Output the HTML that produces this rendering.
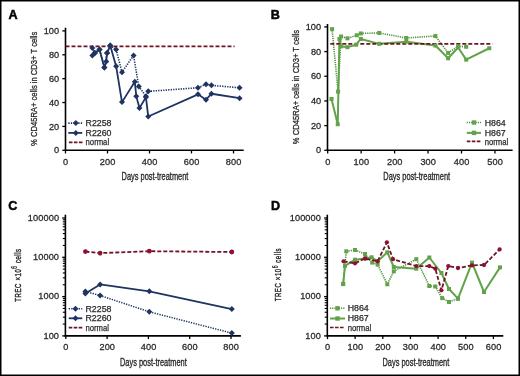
<!DOCTYPE html><html><head><meta charset="utf-8"><style>html,body{margin:0;padding:0;background:#fff;}svg{display:block;will-change:transform;}text{font-family:"Liberation Sans", sans-serif;}</style></head><body>
<svg width="520" height="376" viewBox="0 0 520 376">
<rect x="0" y="0" width="520" height="376" fill="#fff"/>
<line x1="65.5" y1="27.7" x2="65.5" y2="151.05" stroke="#000" stroke-width="1.6"/>
<line x1="64.7" y1="150.25" x2="243.7" y2="150.25" stroke="#000" stroke-width="1.6"/>
<line x1="65.5" y1="150.25" x2="65.5" y2="153.45" stroke="#000" stroke-width="1.3"/>
<line x1="107.5" y1="150.25" x2="107.5" y2="153.45" stroke="#000" stroke-width="1.3"/>
<line x1="149.5" y1="150.25" x2="149.5" y2="153.45" stroke="#000" stroke-width="1.3"/>
<line x1="191.5" y1="150.25" x2="191.5" y2="153.45" stroke="#000" stroke-width="1.3"/>
<line x1="233.5" y1="150.25" x2="233.5" y2="153.45" stroke="#000" stroke-width="1.3"/>
<line x1="62.3" y1="150.3" x2="65.5" y2="150.3" stroke="#000" stroke-width="1.3"/>
<line x1="62.3" y1="126.42" x2="65.5" y2="126.42" stroke="#000" stroke-width="1.3"/>
<line x1="62.3" y1="102.54" x2="65.5" y2="102.54" stroke="#000" stroke-width="1.3"/>
<line x1="62.3" y1="78.66" x2="65.5" y2="78.66" stroke="#000" stroke-width="1.3"/>
<line x1="62.3" y1="54.78" x2="65.5" y2="54.78" stroke="#000" stroke-width="1.3"/>
<line x1="62.3" y1="30.9" x2="65.5" y2="30.9" stroke="#000" stroke-width="1.3"/>
<text x="65.65" y="165.2" font-size="9.2" text-anchor="middle" font-weight="normal" fill="#2a2a2a" letter-spacing="0.1" stroke="#2a2a2a" stroke-width="0.28">0</text>
<text x="107.65" y="165.2" font-size="9.2" text-anchor="middle" font-weight="normal" fill="#2a2a2a" letter-spacing="0.1" stroke="#2a2a2a" stroke-width="0.28">200</text>
<text x="149.65" y="165.2" font-size="9.2" text-anchor="middle" font-weight="normal" fill="#2a2a2a" letter-spacing="0.1" stroke="#2a2a2a" stroke-width="0.28">400</text>
<text x="191.65" y="165.2" font-size="9.2" text-anchor="middle" font-weight="normal" fill="#2a2a2a" letter-spacing="0.1" stroke="#2a2a2a" stroke-width="0.28">600</text>
<text x="233.65" y="165.2" font-size="9.2" text-anchor="middle" font-weight="normal" fill="#2a2a2a" letter-spacing="0.1" stroke="#2a2a2a" stroke-width="0.28">800</text>
<text x="59.3" y="153.4" font-size="9.2" text-anchor="end" font-weight="normal" fill="#2a2a2a" letter-spacing="0.1" stroke="#2a2a2a" stroke-width="0.28">0</text>
<text x="59.3" y="129.52" font-size="9.2" text-anchor="end" font-weight="normal" fill="#2a2a2a" letter-spacing="0.1" stroke="#2a2a2a" stroke-width="0.28">20</text>
<text x="59.3" y="105.64" font-size="9.2" text-anchor="end" font-weight="normal" fill="#2a2a2a" letter-spacing="0.1" stroke="#2a2a2a" stroke-width="0.28">40</text>
<text x="59.3" y="81.76" font-size="9.2" text-anchor="end" font-weight="normal" fill="#2a2a2a" letter-spacing="0.1" stroke="#2a2a2a" stroke-width="0.28">60</text>
<text x="59.3" y="57.88" font-size="9.2" text-anchor="end" font-weight="normal" fill="#2a2a2a" letter-spacing="0.1" stroke="#2a2a2a" stroke-width="0.28">80</text>
<text x="59.3" y="34" font-size="9.2" text-anchor="end" font-weight="normal" fill="#2a2a2a" letter-spacing="0.1" stroke="#2a2a2a" stroke-width="0.28">100</text>
<text transform="translate(155,179.7) scale(0.675,1)" font-size="11" text-anchor="middle" fill="#2a2a2a" stroke="#2a2a2a" stroke-width="0.35">Days post-treatment</text>
<text transform="translate(36.7,88.8) rotate(-90) scale(0.81,1)" x="0" y="0" font-size="9.4" text-anchor="middle" fill="#2a2a2a" stroke="#2a2a2a" stroke-width="0.3">% CD45RA+ cells in CD3+ T cells</text>
<text x="8.4" y="18.5" font-size="12.6" text-anchor="start" font-weight="bold" fill="#000" stroke="#000" stroke-width="0.5">A</text>
<polyline points="92.38,47.9 94.9,53.04 99.52,49.45 104.35,67.41 107.08,53.04 110.23,45.62 116.11,49.45 121.99,72.19 133.54,55.44 138.79,86.56 145.93,96.13 148.24,91.35 198.01,87.76 205.99,84.16 211.45,85.36 239.59,87.76" fill="none" stroke="#1f3463" stroke-width="1.6" stroke-dasharray="1.3,1.2" stroke-linejoin="round"/>
<polyline points="92.38,55.44 94.9,53.04 99.52,49.45 104.35,67.41 106.24,61.42 107.08,53.04 110.23,45.62 116.11,66.21 121.99,102.12 134.8,81.77 136.27,96.13 139.42,108.1 145.93,97.33 148.24,116.48 198.01,94.34 205.99,99.73 211.45,93.74 239.59,98.17" fill="none" stroke="#1f3463" stroke-width="1.8" stroke-linejoin="round"/>
<polyline points="65.5,46.4 234.6,46.4" fill="none" stroke="#6e1426" stroke-width="1.8" stroke-dasharray="4,2" stroke-linejoin="round"/>
<path d="M92.38 44.9L95.38 47.9L92.38 50.9L89.38 47.9Z" fill="#1f3463"/>
<path d="M94.9 50.04L97.9 53.04L94.9 56.04L91.9 53.04Z" fill="#1f3463"/>
<path d="M99.52 46.45L102.52 49.45L99.52 52.45L96.52 49.45Z" fill="#1f3463"/>
<path d="M104.35 64.41L107.35 67.41L104.35 70.41L101.35 67.41Z" fill="#1f3463"/>
<path d="M107.08 50.04L110.08 53.04L107.08 56.04L104.08 53.04Z" fill="#1f3463"/>
<path d="M110.23 42.62L113.23 45.62L110.23 48.62L107.23 45.62Z" fill="#1f3463"/>
<path d="M116.11 46.45L119.11 49.45L116.11 52.45L113.11 49.45Z" fill="#1f3463"/>
<path d="M121.99 69.19L124.99 72.19L121.99 75.19L118.99 72.19Z" fill="#1f3463"/>
<path d="M133.54 52.44L136.54 55.44L133.54 58.44L130.54 55.44Z" fill="#1f3463"/>
<path d="M138.79 83.56L141.79 86.56L138.79 89.56L135.79 86.56Z" fill="#1f3463"/>
<path d="M145.93 93.13L148.93 96.13L145.93 99.13L142.93 96.13Z" fill="#1f3463"/>
<path d="M148.24 88.35L151.24 91.35L148.24 94.35L145.24 91.35Z" fill="#1f3463"/>
<path d="M198.01 84.76L201.01 87.76L198.01 90.76L195.01 87.76Z" fill="#1f3463"/>
<path d="M205.99 81.16L208.99 84.16L205.99 87.16L202.99 84.16Z" fill="#1f3463"/>
<path d="M211.45 82.36L214.45 85.36L211.45 88.36L208.45 85.36Z" fill="#1f3463"/>
<path d="M239.59 84.76L242.59 87.76L239.59 90.76L236.59 87.76Z" fill="#1f3463"/>
<path d="M92.38 52.44L95.38 55.44L92.38 58.44L89.38 55.44Z" fill="#1f3463"/>
<path d="M94.9 50.04L97.9 53.04L94.9 56.04L91.9 53.04Z" fill="#1f3463"/>
<path d="M99.52 46.45L102.52 49.45L99.52 52.45L96.52 49.45Z" fill="#1f3463"/>
<path d="M104.35 64.41L107.35 67.41L104.35 70.41L101.35 67.41Z" fill="#1f3463"/>
<path d="M106.24 58.42L109.24 61.42L106.24 64.42L103.24 61.42Z" fill="#1f3463"/>
<path d="M107.08 50.04L110.08 53.04L107.08 56.04L104.08 53.04Z" fill="#1f3463"/>
<path d="M110.23 42.62L113.23 45.62L110.23 48.62L107.23 45.62Z" fill="#1f3463"/>
<path d="M116.11 63.21L119.11 66.21L116.11 69.21L113.11 66.21Z" fill="#1f3463"/>
<path d="M121.99 99.12L124.99 102.12L121.99 105.12L118.99 102.12Z" fill="#1f3463"/>
<path d="M134.8 78.77L137.8 81.77L134.8 84.77L131.8 81.77Z" fill="#1f3463"/>
<path d="M136.27 93.13L139.27 96.13L136.27 99.13L133.27 96.13Z" fill="#1f3463"/>
<path d="M139.42 105.1L142.42 108.1L139.42 111.1L136.42 108.1Z" fill="#1f3463"/>
<path d="M145.93 94.33L148.93 97.33L145.93 100.33L142.93 97.33Z" fill="#1f3463"/>
<path d="M148.24 113.48L151.24 116.48L148.24 119.48L145.24 116.48Z" fill="#1f3463"/>
<path d="M198.01 91.34L201.01 94.34L198.01 97.34L195.01 94.34Z" fill="#1f3463"/>
<path d="M205.99 96.73L208.99 99.73L205.99 102.73L202.99 99.73Z" fill="#1f3463"/>
<path d="M211.45 90.74L214.45 93.74L211.45 96.74L208.45 93.74Z" fill="#1f3463"/>
<path d="M239.59 95.17L242.59 98.17L239.59 101.17L236.59 98.17Z" fill="#1f3463"/>
<polyline points="68.3,123.1 82.2,123.1" fill="none" stroke="#1f3463" stroke-width="1.6" stroke-dasharray="1.3,1.2" stroke-linejoin="round"/>
<path d="M75.8 120.1L78.8 123.1L75.8 126.1L72.8 123.1Z" fill="#1f3463"/>
<polyline points="68.3,132.9 82.2,132.9" fill="none" stroke="#1f3463" stroke-width="1.8" stroke-linejoin="round"/>
<path d="M75.8 129.9L78.8 132.9L75.8 135.9L72.8 132.9Z" fill="#1f3463"/>
<polyline points="68.9,142.3 82.5,142.3" fill="none" stroke="#6e1426" stroke-width="1.7" stroke-dasharray="3.6,1.4" stroke-linejoin="round"/>
<text x="85.6" y="126.2" font-size="8.8" text-anchor="start" font-weight="normal" fill="#2a2a2a" stroke="#2a2a2a" stroke-width="0.25">R2258</text>
<text x="85.6" y="136" font-size="8.8" text-anchor="start" font-weight="normal" fill="#2a2a2a" stroke="#2a2a2a" stroke-width="0.25">R2260</text>
<text x="85.6" y="144.6" font-size="8.8" text-anchor="start" font-weight="normal" fill="#2a2a2a" textLength="23.5" lengthAdjust="spacingAndGlyphs" stroke="#2a2a2a" stroke-width="0.25">normal</text>
<line x1="327.5" y1="24" x2="327.5" y2="151.1" stroke="#000" stroke-width="1.6"/>
<line x1="326.7" y1="150.3" x2="512.6" y2="150.3" stroke="#000" stroke-width="1.6"/>
<line x1="327.7" y1="150.3" x2="327.7" y2="153.5" stroke="#000" stroke-width="1.3"/>
<line x1="361.15" y1="150.3" x2="361.15" y2="153.5" stroke="#000" stroke-width="1.3"/>
<line x1="394.6" y1="150.3" x2="394.6" y2="153.5" stroke="#000" stroke-width="1.3"/>
<line x1="428.05" y1="150.3" x2="428.05" y2="153.5" stroke="#000" stroke-width="1.3"/>
<line x1="461.5" y1="150.3" x2="461.5" y2="153.5" stroke="#000" stroke-width="1.3"/>
<line x1="494.95" y1="150.3" x2="494.95" y2="153.5" stroke="#000" stroke-width="1.3"/>
<line x1="324.3" y1="150.3" x2="327.5" y2="150.3" stroke="#000" stroke-width="1.3"/>
<line x1="324.3" y1="125.62" x2="327.5" y2="125.62" stroke="#000" stroke-width="1.3"/>
<line x1="324.3" y1="100.94" x2="327.5" y2="100.94" stroke="#000" stroke-width="1.3"/>
<line x1="324.3" y1="76.26" x2="327.5" y2="76.26" stroke="#000" stroke-width="1.3"/>
<line x1="324.3" y1="51.58" x2="327.5" y2="51.58" stroke="#000" stroke-width="1.3"/>
<line x1="324.3" y1="26.9" x2="327.5" y2="26.9" stroke="#000" stroke-width="1.3"/>
<text x="327.85" y="165.2" font-size="9.2" text-anchor="middle" font-weight="normal" fill="#2a2a2a" letter-spacing="0.1" stroke="#2a2a2a" stroke-width="0.28">0</text>
<text x="361.3" y="165.2" font-size="9.2" text-anchor="middle" font-weight="normal" fill="#2a2a2a" letter-spacing="0.1" stroke="#2a2a2a" stroke-width="0.28">100</text>
<text x="394.75" y="165.2" font-size="9.2" text-anchor="middle" font-weight="normal" fill="#2a2a2a" letter-spacing="0.1" stroke="#2a2a2a" stroke-width="0.28">200</text>
<text x="428.2" y="165.2" font-size="9.2" text-anchor="middle" font-weight="normal" fill="#2a2a2a" letter-spacing="0.1" stroke="#2a2a2a" stroke-width="0.28">300</text>
<text x="461.65" y="165.2" font-size="9.2" text-anchor="middle" font-weight="normal" fill="#2a2a2a" letter-spacing="0.1" stroke="#2a2a2a" stroke-width="0.28">400</text>
<text x="495.1" y="165.2" font-size="9.2" text-anchor="middle" font-weight="normal" fill="#2a2a2a" letter-spacing="0.1" stroke="#2a2a2a" stroke-width="0.28">500</text>
<text x="321.3" y="153.4" font-size="9.2" text-anchor="end" font-weight="normal" fill="#2a2a2a" letter-spacing="0.1" stroke="#2a2a2a" stroke-width="0.28">0</text>
<text x="321.3" y="128.72" font-size="9.2" text-anchor="end" font-weight="normal" fill="#2a2a2a" letter-spacing="0.1" stroke="#2a2a2a" stroke-width="0.28">20</text>
<text x="321.3" y="104.04" font-size="9.2" text-anchor="end" font-weight="normal" fill="#2a2a2a" letter-spacing="0.1" stroke="#2a2a2a" stroke-width="0.28">40</text>
<text x="321.3" y="79.36" font-size="9.2" text-anchor="end" font-weight="normal" fill="#2a2a2a" letter-spacing="0.1" stroke="#2a2a2a" stroke-width="0.28">60</text>
<text x="321.3" y="54.68" font-size="9.2" text-anchor="end" font-weight="normal" fill="#2a2a2a" letter-spacing="0.1" stroke="#2a2a2a" stroke-width="0.28">80</text>
<text x="321.3" y="30" font-size="9.2" text-anchor="end" font-weight="normal" fill="#2a2a2a" letter-spacing="0.1" stroke="#2a2a2a" stroke-width="0.28">100</text>
<text transform="translate(416.7,179.7) scale(0.675,1)" font-size="11" text-anchor="middle" fill="#2a2a2a" stroke="#2a2a2a" stroke-width="0.35">Days post-treatment</text>
<text transform="translate(298.8,87) rotate(-90) scale(0.81,1)" x="0" y="0" font-size="9.4" text-anchor="middle" fill="#2a2a2a" stroke="#2a2a2a" stroke-width="0.3">% CD45RA+ cells in CD3+ T cells</text>
<text x="270.8" y="18.8" font-size="12.6" text-anchor="start" font-weight="bold" fill="#000" stroke="#000" stroke-width="0.5">B</text>
<polyline points="332.05,29.15 338.07,91.62 341.08,36.5 347.44,38.34 356.8,35.27 360.82,33.44 379.21,32.95 406.31,37.97 435.41,36.01 448.12,52.91 458.15,46.3 466.18,46.79" fill="none" stroke="#4f8f3c" stroke-width="1.6" stroke-dasharray="1.2,1" stroke-linejoin="round"/>
<polyline points="331.51,98.97 337.74,124.21 339.41,38.95 341.08,46.3 347.44,47.16 356.13,44.71 360.82,38.95 379.21,43.85 406.31,41.64 435.41,45.56 448.12,58.3 458.15,47.52 466.18,59.65 489.26,48.26" fill="none" stroke="#62a34a" stroke-width="2" stroke-linejoin="round"/>
<polyline points="330.3,43.9 492.5,43.9" fill="none" stroke="#6e1426" stroke-width="1.8" stroke-dasharray="4,2" stroke-linejoin="round"/>
<rect x="330.05" y="27.15" width="4" height="4" fill="#62a34a"/>
<rect x="336.07" y="89.62" width="4" height="4" fill="#62a34a"/>
<rect x="339.08" y="34.5" width="4" height="4" fill="#62a34a"/>
<rect x="345.44" y="36.34" width="4" height="4" fill="#62a34a"/>
<rect x="354.8" y="33.27" width="4" height="4" fill="#62a34a"/>
<rect x="358.82" y="31.44" width="4" height="4" fill="#62a34a"/>
<rect x="377.21" y="30.95" width="4" height="4" fill="#62a34a"/>
<rect x="404.31" y="35.97" width="4" height="4" fill="#62a34a"/>
<rect x="433.41" y="34.01" width="4" height="4" fill="#62a34a"/>
<rect x="446.12" y="50.91" width="4" height="4" fill="#62a34a"/>
<rect x="456.15" y="44.3" width="4" height="4" fill="#62a34a"/>
<rect x="464.18" y="44.79" width="4" height="4" fill="#62a34a"/>
<rect x="329.51" y="96.97" width="4" height="4" fill="#62a34a"/>
<rect x="335.74" y="122.21" width="4" height="4" fill="#62a34a"/>
<rect x="337.41" y="36.95" width="4" height="4" fill="#62a34a"/>
<rect x="339.08" y="44.3" width="4" height="4" fill="#62a34a"/>
<rect x="345.44" y="45.16" width="4" height="4" fill="#62a34a"/>
<rect x="354.13" y="42.71" width="4" height="4" fill="#62a34a"/>
<rect x="358.82" y="36.95" width="4" height="4" fill="#62a34a"/>
<rect x="377.21" y="41.85" width="4" height="4" fill="#62a34a"/>
<rect x="404.31" y="39.64" width="4" height="4" fill="#62a34a"/>
<rect x="433.41" y="43.56" width="4" height="4" fill="#62a34a"/>
<rect x="446.12" y="56.3" width="4" height="4" fill="#62a34a"/>
<rect x="456.15" y="45.52" width="4" height="4" fill="#62a34a"/>
<rect x="464.18" y="57.65" width="4" height="4" fill="#62a34a"/>
<rect x="487.26" y="46.26" width="4" height="4" fill="#62a34a"/>
<polyline points="466.8,122.5 481,122.5" fill="none" stroke="#4f8f3c" stroke-width="1.6" stroke-dasharray="1.2,1" stroke-linejoin="round"/>
<rect x="471.8" y="120.3" width="4.4" height="4.4" fill="#62a34a"/>
<polyline points="466.8,132.9 481,132.9" fill="none" stroke="#62a34a" stroke-width="2" stroke-linejoin="round"/>
<rect x="471.8" y="130.7" width="4.4" height="4.4" fill="#62a34a"/>
<polyline points="466.8,141.4 481.5,141.4" fill="none" stroke="#6e1426" stroke-width="1.7" stroke-dasharray="3.6,1.4" stroke-linejoin="round"/>
<text x="484.7" y="126" font-size="8.8" text-anchor="start" font-weight="normal" fill="#2a2a2a" stroke="#2a2a2a" stroke-width="0.25">H864</text>
<text x="484.7" y="135.9" font-size="8.8" text-anchor="start" font-weight="normal" fill="#2a2a2a" stroke="#2a2a2a" stroke-width="0.25">H867</text>
<text x="484.7" y="144.5" font-size="8.8" text-anchor="start" font-weight="normal" fill="#2a2a2a" textLength="23.5" lengthAdjust="spacingAndGlyphs" stroke="#2a2a2a" stroke-width="0.25">normal</text>
<line x1="65.4" y1="214.7" x2="65.4" y2="336.7" stroke="#000" stroke-width="1.6"/>
<line x1="64.6" y1="335.9" x2="240.9" y2="335.9" stroke="#000" stroke-width="1.6"/>
<line x1="65.8" y1="335.9" x2="65.8" y2="339.1" stroke="#000" stroke-width="1.3"/>
<line x1="107.1" y1="335.9" x2="107.1" y2="339.1" stroke="#000" stroke-width="1.3"/>
<line x1="148.4" y1="335.9" x2="148.4" y2="339.1" stroke="#000" stroke-width="1.3"/>
<line x1="189.7" y1="335.9" x2="189.7" y2="339.1" stroke="#000" stroke-width="1.3"/>
<line x1="231" y1="335.9" x2="231" y2="339.1" stroke="#000" stroke-width="1.3"/>
<line x1="62.2" y1="335.9" x2="65.4" y2="335.9" stroke="#000" stroke-width="1.3"/>
<line x1="62.2" y1="296.6" x2="65.4" y2="296.6" stroke="#000" stroke-width="1.3"/>
<line x1="62.2" y1="257.3" x2="65.4" y2="257.3" stroke="#000" stroke-width="1.3"/>
<line x1="62.2" y1="218" x2="65.4" y2="218" stroke="#000" stroke-width="1.3"/>
<line x1="62.8" y1="324.07" x2="65.4" y2="324.07" stroke="#000" stroke-width="1.1"/>
<line x1="62.8" y1="317.15" x2="65.4" y2="317.15" stroke="#000" stroke-width="1.1"/>
<line x1="62.8" y1="312.24" x2="65.4" y2="312.24" stroke="#000" stroke-width="1.1"/>
<line x1="62.8" y1="308.43" x2="65.4" y2="308.43" stroke="#000" stroke-width="1.1"/>
<line x1="62.8" y1="305.32" x2="65.4" y2="305.32" stroke="#000" stroke-width="1.1"/>
<line x1="62.8" y1="302.69" x2="65.4" y2="302.69" stroke="#000" stroke-width="1.1"/>
<line x1="62.8" y1="300.41" x2="65.4" y2="300.41" stroke="#000" stroke-width="1.1"/>
<line x1="62.8" y1="298.4" x2="65.4" y2="298.4" stroke="#000" stroke-width="1.1"/>
<line x1="62.8" y1="284.77" x2="65.4" y2="284.77" stroke="#000" stroke-width="1.1"/>
<line x1="62.8" y1="277.85" x2="65.4" y2="277.85" stroke="#000" stroke-width="1.1"/>
<line x1="62.8" y1="272.94" x2="65.4" y2="272.94" stroke="#000" stroke-width="1.1"/>
<line x1="62.8" y1="269.13" x2="65.4" y2="269.13" stroke="#000" stroke-width="1.1"/>
<line x1="62.8" y1="266.02" x2="65.4" y2="266.02" stroke="#000" stroke-width="1.1"/>
<line x1="62.8" y1="263.39" x2="65.4" y2="263.39" stroke="#000" stroke-width="1.1"/>
<line x1="62.8" y1="261.11" x2="65.4" y2="261.11" stroke="#000" stroke-width="1.1"/>
<line x1="62.8" y1="259.1" x2="65.4" y2="259.1" stroke="#000" stroke-width="1.1"/>
<line x1="62.8" y1="245.47" x2="65.4" y2="245.47" stroke="#000" stroke-width="1.1"/>
<line x1="62.8" y1="238.55" x2="65.4" y2="238.55" stroke="#000" stroke-width="1.1"/>
<line x1="62.8" y1="233.64" x2="65.4" y2="233.64" stroke="#000" stroke-width="1.1"/>
<line x1="62.8" y1="229.83" x2="65.4" y2="229.83" stroke="#000" stroke-width="1.1"/>
<line x1="62.8" y1="226.72" x2="65.4" y2="226.72" stroke="#000" stroke-width="1.1"/>
<line x1="62.8" y1="224.09" x2="65.4" y2="224.09" stroke="#000" stroke-width="1.1"/>
<line x1="62.8" y1="221.81" x2="65.4" y2="221.81" stroke="#000" stroke-width="1.1"/>
<line x1="62.8" y1="219.8" x2="65.4" y2="219.8" stroke="#000" stroke-width="1.1"/>
<text x="65.95" y="350.4" font-size="9.2" text-anchor="middle" font-weight="normal" fill="#2a2a2a" letter-spacing="0.1" stroke="#2a2a2a" stroke-width="0.28">0</text>
<text x="107.25" y="350.4" font-size="9.2" text-anchor="middle" font-weight="normal" fill="#2a2a2a" letter-spacing="0.1" stroke="#2a2a2a" stroke-width="0.28">200</text>
<text x="148.55" y="350.4" font-size="9.2" text-anchor="middle" font-weight="normal" fill="#2a2a2a" letter-spacing="0.1" stroke="#2a2a2a" stroke-width="0.28">400</text>
<text x="189.85" y="350.4" font-size="9.2" text-anchor="middle" font-weight="normal" fill="#2a2a2a" letter-spacing="0.1" stroke="#2a2a2a" stroke-width="0.28">600</text>
<text x="231.15" y="350.4" font-size="9.2" text-anchor="middle" font-weight="normal" fill="#2a2a2a" letter-spacing="0.1" stroke="#2a2a2a" stroke-width="0.28">800</text>
<text x="59.1" y="338.6" font-size="9.2" text-anchor="end" font-weight="normal" fill="#2a2a2a" letter-spacing="0.1" stroke="#2a2a2a" stroke-width="0.28">100</text>
<text x="59.1" y="299.3" font-size="9.2" text-anchor="end" font-weight="normal" fill="#2a2a2a" letter-spacing="0.1" stroke="#2a2a2a" stroke-width="0.28">1000</text>
<text x="59.1" y="260" font-size="9.2" text-anchor="end" font-weight="normal" fill="#2a2a2a" letter-spacing="0.1" stroke="#2a2a2a" stroke-width="0.28">10000</text>
<text x="59.1" y="220.7" font-size="9.2" text-anchor="end" font-weight="normal" fill="#2a2a2a" letter-spacing="0.1" stroke="#2a2a2a" stroke-width="0.28">100000</text>
<text transform="translate(153.4,365.5) scale(0.675,1)" font-size="11" text-anchor="middle" fill="#2a2a2a" stroke="#2a2a2a" stroke-width="0.35">Days post-treatment</text>
<text transform="translate(20.5,275) rotate(-90) scale(0.62,1)" x="0" y="0" font-size="9.7" word-spacing="0.5" letter-spacing="0.9" text-anchor="middle" fill="#2a2a2a" stroke="#2a2a2a" stroke-width="0.42">TREC <tspan font-size="9.7">&#215;</tspan>10<tspan font-size="8.2" dy="-3.3" letter-spacing="0.3" stroke-width="0.3">6</tspan><tspan dy="3.3"> cells</tspan></text>
<text x="8.2" y="209.8" font-size="12.6" text-anchor="start" font-weight="bold" fill="#000" stroke="#000" stroke-width="0.5">C</text>
<polyline points="85.4,251.6 100.1,253.1 149.3,251.2 231.8,252" fill="none" stroke="#6e1426" stroke-width="1.8" stroke-dasharray="4,2" stroke-linejoin="round"/>
<polyline points="85.4,291.5 100.1,295.5 149.3,311.8 231.8,333.1" fill="none" stroke="#1f3463" stroke-width="1.5" stroke-dasharray="1.3,1.2" stroke-linejoin="round"/>
<polyline points="85.4,293.4 100.1,284.4 149.3,291.3 231.8,309.1" fill="none" stroke="#1f3463" stroke-width="1.8" stroke-linejoin="round"/>
<circle cx="85.4" cy="251.6" r="2.4" fill="#8e1035"/>
<circle cx="100.1" cy="253.1" r="2.4" fill="#8e1035"/>
<circle cx="149.3" cy="251.2" r="2.4" fill="#8e1035"/>
<circle cx="231.8" cy="252" r="2.4" fill="#8e1035"/>
<path d="M85.4 288.5L88.4 291.5L85.4 294.5L82.4 291.5Z" fill="#1f3463"/>
<path d="M100.1 292.5L103.1 295.5L100.1 298.5L97.1 295.5Z" fill="#1f3463"/>
<path d="M149.3 308.8L152.3 311.8L149.3 314.8L146.3 311.8Z" fill="#1f3463"/>
<path d="M231.8 330.1L234.8 333.1L231.8 336.1L228.8 333.1Z" fill="#1f3463"/>
<path d="M85.4 290.4L88.4 293.4L85.4 296.4L82.4 293.4Z" fill="#1f3463"/>
<path d="M100.1 281.4L103.1 284.4L100.1 287.4L97.1 284.4Z" fill="#1f3463"/>
<path d="M149.3 288.3L152.3 291.3L149.3 294.3L146.3 291.3Z" fill="#1f3463"/>
<path d="M231.8 306.1L234.8 309.1L231.8 312.1L228.8 309.1Z" fill="#1f3463"/>
<polyline points="68.7,308.8 82.3,308.8" fill="none" stroke="#1f3463" stroke-width="1.5" stroke-dasharray="1.3,1.2" stroke-linejoin="round"/>
<path d="M75.5 305.8L78.5 308.8L75.5 311.8L72.5 308.8Z" fill="#1f3463"/>
<polyline points="68.7,318.3 82.3,318.3" fill="none" stroke="#1f3463" stroke-width="1.8" stroke-linejoin="round"/>
<path d="M75.5 315.3L78.5 318.3L75.5 321.3L72.5 318.3Z" fill="#1f3463"/>
<polyline points="68.7,327.6 82.3,327.6" fill="none" stroke="#6e1426" stroke-width="1.7" stroke-dasharray="3.6,1.4" stroke-linejoin="round"/>
<text x="85.5" y="311.7" font-size="8.8" text-anchor="start" font-weight="normal" fill="#2a2a2a" stroke="#2a2a2a" stroke-width="0.25">R2258</text>
<text x="85.5" y="321.2" font-size="8.8" text-anchor="start" font-weight="normal" fill="#2a2a2a" stroke="#2a2a2a" stroke-width="0.25">R2260</text>
<text x="85.5" y="330.5" font-size="8.8" text-anchor="start" font-weight="normal" fill="#2a2a2a" textLength="23.5" lengthAdjust="spacingAndGlyphs" stroke="#2a2a2a" stroke-width="0.25">normal</text>
<line x1="327.3" y1="214.7" x2="327.3" y2="336.7" stroke="#000" stroke-width="1.6"/>
<line x1="326.5" y1="335.9" x2="503.3" y2="335.9" stroke="#000" stroke-width="1.6"/>
<line x1="327.5" y1="335.9" x2="327.5" y2="339.1" stroke="#000" stroke-width="1.3"/>
<line x1="355.15" y1="335.9" x2="355.15" y2="339.1" stroke="#000" stroke-width="1.3"/>
<line x1="382.8" y1="335.9" x2="382.8" y2="339.1" stroke="#000" stroke-width="1.3"/>
<line x1="410.45" y1="335.9" x2="410.45" y2="339.1" stroke="#000" stroke-width="1.3"/>
<line x1="438.1" y1="335.9" x2="438.1" y2="339.1" stroke="#000" stroke-width="1.3"/>
<line x1="465.75" y1="335.9" x2="465.75" y2="339.1" stroke="#000" stroke-width="1.3"/>
<line x1="493.4" y1="335.9" x2="493.4" y2="339.1" stroke="#000" stroke-width="1.3"/>
<line x1="324.1" y1="335.9" x2="327.3" y2="335.9" stroke="#000" stroke-width="1.3"/>
<line x1="324.1" y1="296.6" x2="327.3" y2="296.6" stroke="#000" stroke-width="1.3"/>
<line x1="324.1" y1="257.3" x2="327.3" y2="257.3" stroke="#000" stroke-width="1.3"/>
<line x1="324.1" y1="218" x2="327.3" y2="218" stroke="#000" stroke-width="1.3"/>
<line x1="324.7" y1="324.07" x2="327.3" y2="324.07" stroke="#000" stroke-width="1.1"/>
<line x1="324.7" y1="317.15" x2="327.3" y2="317.15" stroke="#000" stroke-width="1.1"/>
<line x1="324.7" y1="312.24" x2="327.3" y2="312.24" stroke="#000" stroke-width="1.1"/>
<line x1="324.7" y1="308.43" x2="327.3" y2="308.43" stroke="#000" stroke-width="1.1"/>
<line x1="324.7" y1="305.32" x2="327.3" y2="305.32" stroke="#000" stroke-width="1.1"/>
<line x1="324.7" y1="302.69" x2="327.3" y2="302.69" stroke="#000" stroke-width="1.1"/>
<line x1="324.7" y1="300.41" x2="327.3" y2="300.41" stroke="#000" stroke-width="1.1"/>
<line x1="324.7" y1="298.4" x2="327.3" y2="298.4" stroke="#000" stroke-width="1.1"/>
<line x1="324.7" y1="284.77" x2="327.3" y2="284.77" stroke="#000" stroke-width="1.1"/>
<line x1="324.7" y1="277.85" x2="327.3" y2="277.85" stroke="#000" stroke-width="1.1"/>
<line x1="324.7" y1="272.94" x2="327.3" y2="272.94" stroke="#000" stroke-width="1.1"/>
<line x1="324.7" y1="269.13" x2="327.3" y2="269.13" stroke="#000" stroke-width="1.1"/>
<line x1="324.7" y1="266.02" x2="327.3" y2="266.02" stroke="#000" stroke-width="1.1"/>
<line x1="324.7" y1="263.39" x2="327.3" y2="263.39" stroke="#000" stroke-width="1.1"/>
<line x1="324.7" y1="261.11" x2="327.3" y2="261.11" stroke="#000" stroke-width="1.1"/>
<line x1="324.7" y1="259.1" x2="327.3" y2="259.1" stroke="#000" stroke-width="1.1"/>
<line x1="324.7" y1="245.47" x2="327.3" y2="245.47" stroke="#000" stroke-width="1.1"/>
<line x1="324.7" y1="238.55" x2="327.3" y2="238.55" stroke="#000" stroke-width="1.1"/>
<line x1="324.7" y1="233.64" x2="327.3" y2="233.64" stroke="#000" stroke-width="1.1"/>
<line x1="324.7" y1="229.83" x2="327.3" y2="229.83" stroke="#000" stroke-width="1.1"/>
<line x1="324.7" y1="226.72" x2="327.3" y2="226.72" stroke="#000" stroke-width="1.1"/>
<line x1="324.7" y1="224.09" x2="327.3" y2="224.09" stroke="#000" stroke-width="1.1"/>
<line x1="324.7" y1="221.81" x2="327.3" y2="221.81" stroke="#000" stroke-width="1.1"/>
<line x1="324.7" y1="219.8" x2="327.3" y2="219.8" stroke="#000" stroke-width="1.1"/>
<text x="327.65" y="350.4" font-size="9.2" text-anchor="middle" font-weight="normal" fill="#2a2a2a" letter-spacing="0.1" stroke="#2a2a2a" stroke-width="0.28">0</text>
<text x="355.3" y="350.4" font-size="9.2" text-anchor="middle" font-weight="normal" fill="#2a2a2a" letter-spacing="0.1" stroke="#2a2a2a" stroke-width="0.28">100</text>
<text x="382.95" y="350.4" font-size="9.2" text-anchor="middle" font-weight="normal" fill="#2a2a2a" letter-spacing="0.1" stroke="#2a2a2a" stroke-width="0.28">200</text>
<text x="410.6" y="350.4" font-size="9.2" text-anchor="middle" font-weight="normal" fill="#2a2a2a" letter-spacing="0.1" stroke="#2a2a2a" stroke-width="0.28">300</text>
<text x="438.25" y="350.4" font-size="9.2" text-anchor="middle" font-weight="normal" fill="#2a2a2a" letter-spacing="0.1" stroke="#2a2a2a" stroke-width="0.28">400</text>
<text x="465.9" y="350.4" font-size="9.2" text-anchor="middle" font-weight="normal" fill="#2a2a2a" letter-spacing="0.1" stroke="#2a2a2a" stroke-width="0.28">500</text>
<text x="493.55" y="350.4" font-size="9.2" text-anchor="middle" font-weight="normal" fill="#2a2a2a" letter-spacing="0.1" stroke="#2a2a2a" stroke-width="0.28">600</text>
<text x="321" y="338.6" font-size="9.2" text-anchor="end" font-weight="normal" fill="#2a2a2a" letter-spacing="0.1" stroke="#2a2a2a" stroke-width="0.28">100</text>
<text x="321" y="299.3" font-size="9.2" text-anchor="end" font-weight="normal" fill="#2a2a2a" letter-spacing="0.1" stroke="#2a2a2a" stroke-width="0.28">1000</text>
<text x="321" y="260" font-size="9.2" text-anchor="end" font-weight="normal" fill="#2a2a2a" letter-spacing="0.1" stroke="#2a2a2a" stroke-width="0.28">10000</text>
<text x="321" y="220.7" font-size="9.2" text-anchor="end" font-weight="normal" fill="#2a2a2a" letter-spacing="0.1" stroke="#2a2a2a" stroke-width="0.28">100000</text>
<text transform="translate(415.9,365.5) scale(0.675,1)" font-size="11" text-anchor="middle" fill="#2a2a2a" stroke="#2a2a2a" stroke-width="0.35">Days post-treatment</text>
<text transform="translate(281.3,274.6) rotate(-90) scale(0.62,1)" x="0" y="0" font-size="9.7" word-spacing="0.5" letter-spacing="0.9" text-anchor="middle" fill="#2a2a2a" stroke="#2a2a2a" stroke-width="0.42">TREC <tspan font-size="9.7">&#215;</tspan>10<tspan font-size="8.2" dy="-3.3" letter-spacing="0.3" stroke-width="0.3">6</tspan><tspan dy="3.3"> cells</tspan></text>
<text x="271.1" y="210.2" font-size="12.6" text-anchor="start" font-weight="bold" fill="#000" stroke="#000" stroke-width="0.5">D</text>
<polyline points="343.1,284.1 346.3,251.3 355,250 365,254 372.2,262.6 377.6,264.6 387.3,284.3 393.8,271.3 416.3,259.2 429.3,286 435.3,286.5 442.2,298.1 449,302 458,298.6" fill="none" stroke="#4f8f3c" stroke-width="1.6" stroke-dasharray="1.2,1" stroke-linejoin="round"/>
<polyline points="343.2,283.9 345,265.9 355,259.7 365.6,258.6 371.6,257.3 377.6,261.3 387.3,252.3 393.8,267 416.3,268.7 429.3,257.5 441.4,273 449,289 458,298.6 472,262.6 484,292 500,267.4" fill="none" stroke="#62a34a" stroke-width="2" stroke-linejoin="round"/>
<rect x="341.1" y="282.1" width="4" height="4" fill="#62a34a"/>
<rect x="344.3" y="249.3" width="4" height="4" fill="#62a34a"/>
<rect x="353" y="248" width="4" height="4" fill="#62a34a"/>
<rect x="363" y="252" width="4" height="4" fill="#62a34a"/>
<rect x="370.2" y="260.6" width="4" height="4" fill="#62a34a"/>
<rect x="375.6" y="262.6" width="4" height="4" fill="#62a34a"/>
<rect x="385.3" y="282.3" width="4" height="4" fill="#62a34a"/>
<rect x="391.8" y="269.3" width="4" height="4" fill="#62a34a"/>
<rect x="414.3" y="257.2" width="4" height="4" fill="#62a34a"/>
<rect x="427.3" y="284" width="4" height="4" fill="#62a34a"/>
<rect x="433.3" y="284.5" width="4" height="4" fill="#62a34a"/>
<rect x="440.2" y="296.1" width="4" height="4" fill="#62a34a"/>
<rect x="447" y="300" width="4" height="4" fill="#62a34a"/>
<rect x="456" y="296.6" width="4" height="4" fill="#62a34a"/>
<rect x="341.2" y="281.9" width="4" height="4" fill="#62a34a"/>
<rect x="343" y="263.9" width="4" height="4" fill="#62a34a"/>
<rect x="353" y="257.7" width="4" height="4" fill="#62a34a"/>
<rect x="363.6" y="256.6" width="4" height="4" fill="#62a34a"/>
<rect x="369.6" y="255.3" width="4" height="4" fill="#62a34a"/>
<rect x="375.6" y="259.3" width="4" height="4" fill="#62a34a"/>
<rect x="385.3" y="250.3" width="4" height="4" fill="#62a34a"/>
<rect x="391.8" y="265" width="4" height="4" fill="#62a34a"/>
<rect x="414.3" y="266.7" width="4" height="4" fill="#62a34a"/>
<rect x="427.3" y="255.5" width="4" height="4" fill="#62a34a"/>
<rect x="439.4" y="271" width="4" height="4" fill="#62a34a"/>
<rect x="447" y="287" width="4" height="4" fill="#62a34a"/>
<rect x="456" y="296.6" width="4" height="4" fill="#62a34a"/>
<rect x="470" y="260.6" width="4" height="4" fill="#62a34a"/>
<rect x="482" y="290" width="4" height="4" fill="#62a34a"/>
<rect x="498" y="265.4" width="4" height="4" fill="#62a34a"/>
<polyline points="343.6,261.3 355,263.3 365,258.5 377.6,261.3 386.9,242.3 393,259.2 416.3,266.1 429.3,266.1 435.3,268.7 441.4,290.3 448.3,266.1 458,268 472,265.4 484,265 499.6,249.4" fill="none" stroke="#6e1426" stroke-width="1.8" stroke-dasharray="4,2" stroke-linejoin="round"/>
<circle cx="343.6" cy="261.3" r="2.15" fill="#8e1035"/>
<circle cx="355" cy="263.3" r="2.15" fill="#8e1035"/>
<circle cx="365" cy="258.5" r="2.15" fill="#8e1035"/>
<circle cx="377.6" cy="261.3" r="2.15" fill="#8e1035"/>
<circle cx="386.9" cy="242.3" r="2.15" fill="#8e1035"/>
<circle cx="393" cy="259.2" r="2.15" fill="#8e1035"/>
<circle cx="416.3" cy="266.1" r="2.15" fill="#8e1035"/>
<circle cx="429.3" cy="266.1" r="2.15" fill="#8e1035"/>
<circle cx="435.3" cy="268.7" r="2.15" fill="#8e1035"/>
<circle cx="441.4" cy="290.3" r="2.15" fill="#8e1035"/>
<circle cx="448.3" cy="266.1" r="2.15" fill="#8e1035"/>
<circle cx="458" cy="268" r="2.15" fill="#8e1035"/>
<circle cx="472" cy="265.4" r="2.15" fill="#8e1035"/>
<circle cx="484" cy="265" r="2.15" fill="#8e1035"/>
<circle cx="499.6" cy="249.4" r="2.15" fill="#8e1035"/>
<polyline points="330,308.3 345,308.3" fill="none" stroke="#4f8f3c" stroke-width="1.6" stroke-dasharray="1.2,1" stroke-linejoin="round"/>
<rect x="335.3" y="306.1" width="4.4" height="4.4" fill="#62a34a"/>
<polyline points="330,318.5 345,318.5" fill="none" stroke="#62a34a" stroke-width="2" stroke-linejoin="round"/>
<rect x="335.3" y="316.3" width="4.4" height="4.4" fill="#62a34a"/>
<polyline points="330,327.5 345,327.5" fill="none" stroke="#6e1426" stroke-width="1.7" stroke-dasharray="3.6,1.4" stroke-linejoin="round"/>
<text x="347.7" y="311.2" font-size="8.8" text-anchor="start" font-weight="normal" fill="#2a2a2a" stroke="#2a2a2a" stroke-width="0.25">H864</text>
<text x="347.7" y="321.4" font-size="8.8" text-anchor="start" font-weight="normal" fill="#2a2a2a" stroke="#2a2a2a" stroke-width="0.25">H867</text>
<text x="347.7" y="330.9" font-size="8.8" text-anchor="start" font-weight="normal" fill="#2a2a2a" textLength="23.5" lengthAdjust="spacingAndGlyphs" stroke="#2a2a2a" stroke-width="0.25">normal</text>
<rect x="0.75" y="0.75" width="518.5" height="374.5" fill="none" stroke="#000" stroke-width="1.5"/>
</svg></body></html>
